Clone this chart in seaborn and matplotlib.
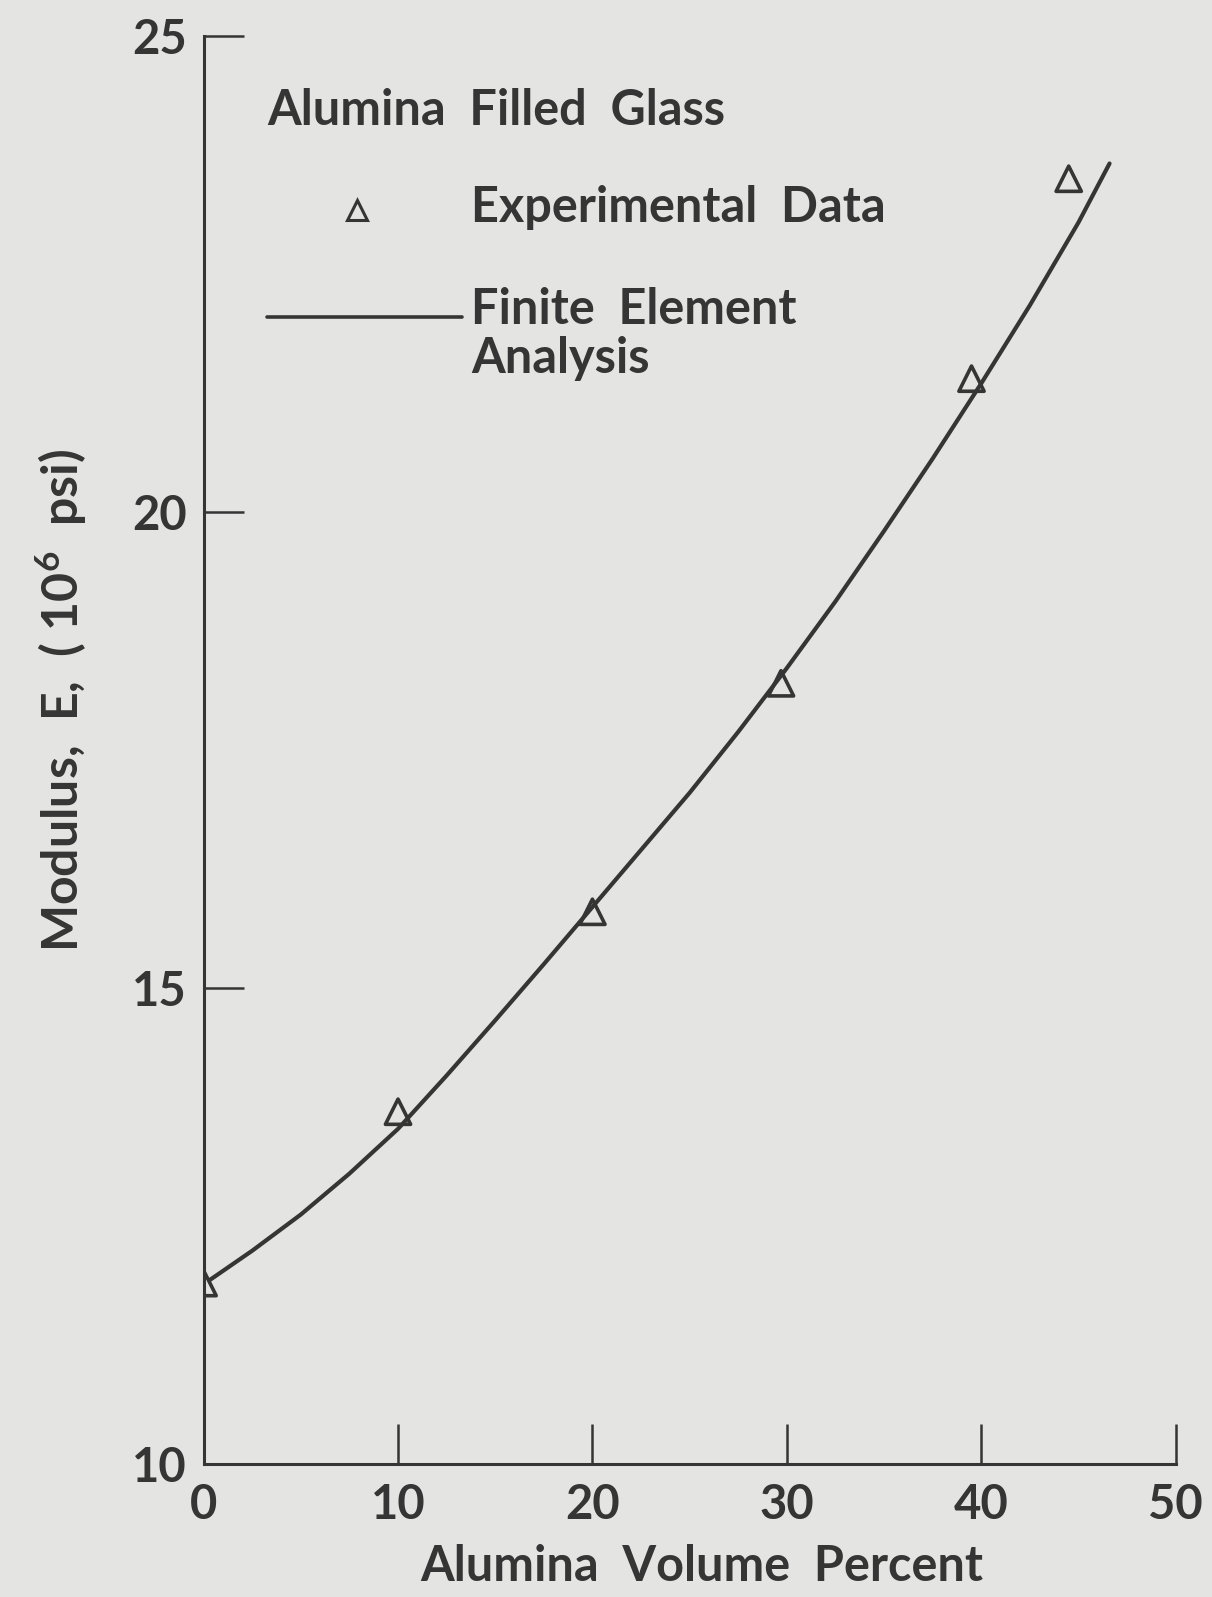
import matplotlib
matplotlib.use("Agg")
import matplotlib.pyplot as plt
import pandas as pd
import seaborn as sns

# Experimental data (triangles)
exp_vol = [0, 10, 20, 29.7, 39.5, 44.5]
exp_mod = [11.9, 13.7, 15.8, 18.2, 21.4, 23.5]

# Finite element analysis curve
fea_vol = [0.3, 2.5, 5, 7.5, 10, 12.5, 15, 17.5, 20, 22.5, 25, 27.5,
           30, 32.5, 35, 37.5, 40, 42.5, 45, 46.6]
fea_mod = [11.93, 12.24, 12.62, 13.05, 13.52, 14.08, 14.66, 15.25, 15.85, 16.45,
           17.05, 17.69, 18.36, 19.06, 19.8, 20.56, 21.35, 22.17, 23.04, 23.66]

x_ticks = [0, 10, 20, 30, 40, 50]
y_ticks = [10, 15, 20, 25]

ink = "#353535"
paper = "#e4e4e2"

sns.set_style("ticks")
plt.rcParams["font.family"] = ["Lato", "DejaVu Sans"]
plt.rcParams["font.weight"] = "bold"
plt.rcParams["axes.labelweight"] = "bold"
plt.rcParams["mathtext.default"] = "regular"

exp_df = pd.DataFrame({"vol": exp_vol, "mod": exp_mod})
fea_df = pd.DataFrame({"vol": fea_vol, "mod": fea_mod})

fig = plt.figure(figsize=(12.12, 15.97), dpi=100, facecolor=paper)
ax = fig.add_axes([0.168, 0.0833, 0.802, 0.8942])
ax.set_facecolor(paper)

sns.lineplot(data=fea_df, x="vol", y="mod", ax=ax, color=ink, linewidth=3.0, sort=True)
sns.scatterplot(data=exp_df, x="vol", y="mod", ax=ax, marker="^", s=330,
                facecolors="none", edgecolors=ink, linewidth=2.6, zorder=3)

ax.set_xlim(0, 50)
ax.set_ylim(10, 25)
ax.set_xticks(x_ticks)
ax.set_yticks(y_ticks)
ax.set_xticklabels([str(v) for v in x_ticks])
ax.set_yticklabels([str(v) for v in y_ticks])
ax.tick_params(direction="in", length=29, width=1.8, colors=ink, labelsize=34, pad=12)
ax.tick_params(axis="x", pad=14)

for side in ["top", "right"]:
    ax.spines[side].set_visible(False)
for side in ["left", "bottom"]:
    ax.spines[side].set_linewidth(2.2)
    ax.spines[side].set_color(ink)

ax.set_xlabel("Alumina  Volume  Percent", fontsize=35, color=ink)
ax.set_ylabel("Modulus,  E,  ( 10$^6$  psi)", fontsize=36, color=ink)
ax.xaxis.set_label_coords(0.512, -0.056)
ax.yaxis.set_label_coords(-0.118, 0.535)

# legend block drawn by hand, as in the original figure
ax.text(0.065, 0.948, "Alumina  Filled  Glass", transform=ax.transAxes,
        fontsize=35, color=ink, va="center", ha="left")
ax.plot([0.158], [0.878], transform=ax.transAxes, marker="^", markersize=14,
        markerfacecolor="none", markeredgecolor=ink, markeredgewidth=2.2, linestyle="")
ax.text(0.275, 0.880, "Experimental  Data", transform=ax.transAxes,
        fontsize=35, color=ink, va="center", ha="left")
ax.plot([0.065, 0.266], [0.803, 0.803], transform=ax.transAxes,
        color=ink, linewidth=2.6)
ax.text(0.275, 0.824, "Finite  Element\nAnalysis", transform=ax.transAxes,
        fontsize=35, color=ink, va="top", ha="left", linespacing=1.1)

fig.savefig("out.png", dpi=100, facecolor=paper)
